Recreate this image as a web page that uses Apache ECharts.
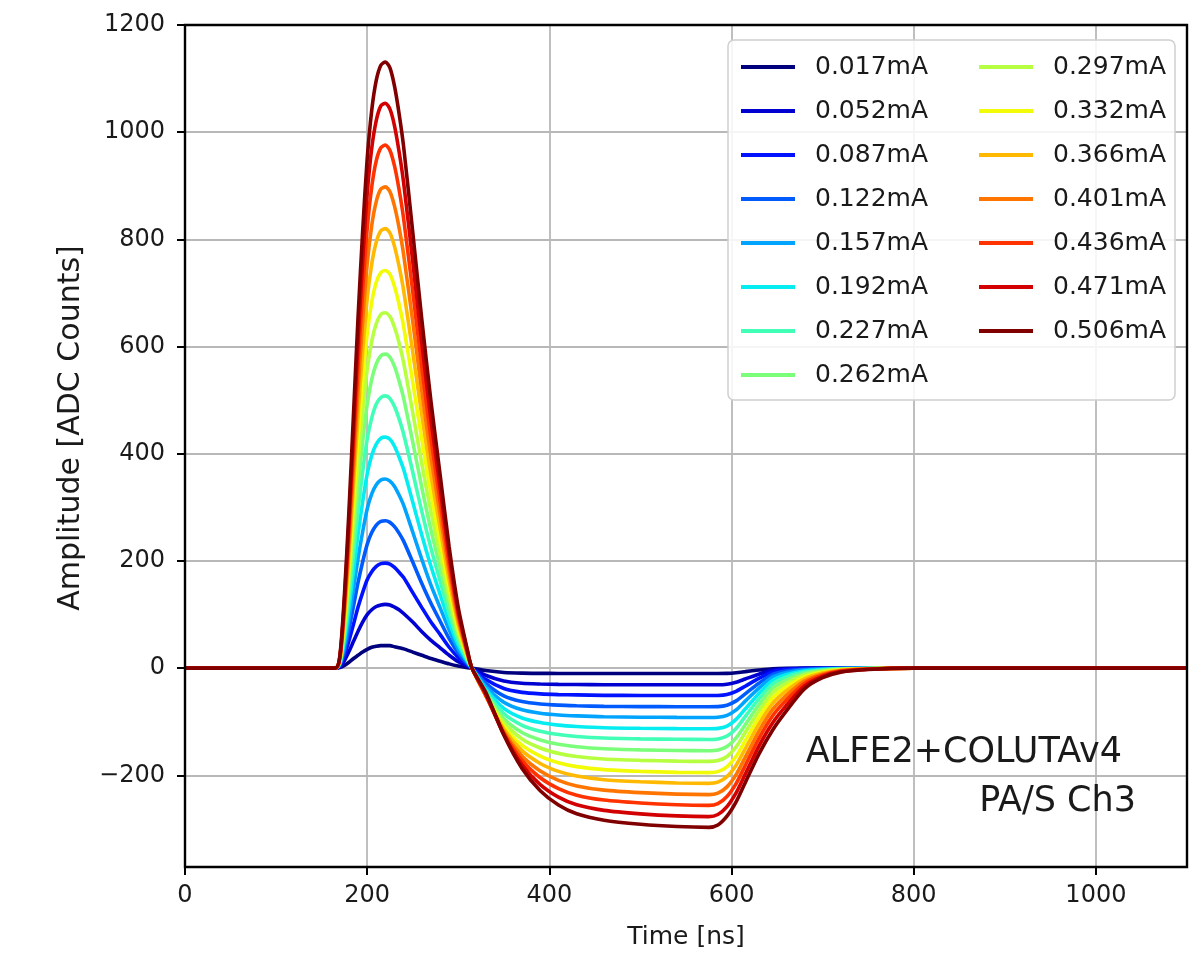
<!DOCTYPE html>
<html>
<head>
<meta charset="utf-8">
<script src="https://cdn.jsdelivr.net/npm/echarts@6/dist/echarts.min.js"></script>
<style>
html,body{margin:0;padding:0;background:#fff;}
#chart{width:1204px;height:956px;}
</style>
</head>
<body>
<div id="chart"></div>
<script>
// Time samples [ns]
const timeNs = [0,165,170,175,180,185,190,195,200,205,210,215,220,225,230,235,240,250,260,270,280,290,300,310,315,330,350,370,390,410,430,460,500,540,575,585,595,605,615,630,645,660,680,700,720,750,800,1100];

const currentLabels = ['0.017mA','0.052mA','0.087mA','0.122mA','0.157mA','0.192mA','0.227mA','0.262mA','0.297mA','0.332mA','0.366mA','0.401mA','0.436mA','0.471mA','0.506mA'];

// Amplitude [ADC counts] per injected current
const amp017 = [0,0,1,5,11,18,24,30,35,39,41,42,42,42,40,38,36,30,24,18,13,8,4,1,0,-4.5,-8,-9.3,-9.7,-9.9,-9.9,-10,-10,-10,-10,-10,-9.7,-8.5,-6.5,-3.5,-1,-0.2,0,0,0,0,0,0];
const amp052 = [0,0,2,14,31,50,69,86,100,109,115,118,119,118,114,109,102,86,68,52,38,24,12,4,0,-13.3,-24,-28.2,-29.6,-30.3,-30.5,-30.9,-31,-31,-31,-31,-30,-26.3,-20.3,-11.3,-3.7,-1.2,-0.3,-0.1,-0.1,0,0,0];
const amp087 = [0,0,4,24,51,82,114,141,165,180,190,195,196,194,188,179,169,141,113,86,63,39,20,6,0,-20.8,-38,-45.2,-48,-49.3,-49.9,-50.7,-50.9,-51,-51,-50.9,-49.2,-43.3,-33.7,-19.2,-7.2,-2.8,-0.9,-0.4,-0.2,-0.1,0,0];
const amp122 = [0,0,6,33,72,116,160,198,231,253,267,274,275,272,264,252,237,198,158,121,88,55,28,8,0,-27.8,-51.7,-62.3,-66.8,-69,-70.1,-71.3,-71.7,-71.9,-72,-71.8,-69.2,-61,-47.9,-28.1,-11.7,-5.3,-2,-0.9,-0.4,-0.1,0,0];
const amp157 = [0,0,7,42,92,148,205,254,297,325,342,351,353,349,339,323,304,254,203,155,113,71,35,11,0,-33.5,-63.6,-77.7,-84,-87.3,-89.1,-90.8,-91.5,-91.9,-92,-91.6,-88.2,-77.9,-61.6,-37.2,-16.8,-8.4,-3.4,-1.6,-0.7,-0.2,0,0];
const amp192 = [0,0,9,52,112,181,250,310,362,397,418,429,431,427,414,394,371,310,248,190,138,86,43,13,0,-38.7,-75.1,-93,-101.5,-106.3,-108.8,-111.2,-112.2,-112.8,-113,-112.4,-108,-95.6,-76.3,-47.2,-23,-12.4,-5.2,-2.4,-1,-0.3,0,0];
const amp227 = [0,0,10,61,132,213,295,366,427,467,493,505,508,503,488,465,437,366,292,224,163,102,51,15,0,-42.7,-84.7,-106.6,-117.6,-123.9,-127.4,-130.4,-131.9,-132.7,-133,-132.1,-126.7,-112.5,-90.4,-57.4,-29.8,-16.9,-7.4,-3.4,-1.4,-0.5,0,0];
const amp262 = [0,0,12,70,152,246,340,422,492,539,568,583,586,580,563,536,504,422,337,258,188,117,59,18,0,-46.2,-93.9,-120.1,-134,-142.1,-146.7,-150.5,-152.5,-153.6,-154,-152.8,-146.3,-130.1,-105.5,-68.5,-37.7,-22.3,-10,-4.6,-1.9,-0.6,0,0];
const amp297 = [0,0,13,80,172,278,385,477,557,610,643,660,663,656,636,607,570,477,381,292,212,133,66,20,0,-48.5,-101.4,-132,-148.9,-159,-164.8,-169.5,-172,-173.5,-174,-172.5,-164.8,-146.9,-120.1,-79.8,-46.2,-28.3,-12.9,-6,-2.5,-0.8,0,0];
const amp332 = [0,0,15,89,193,312,430,534,623,683,720,738,742,735,712,679,638,534,427,326,237,148,74,22,0,-50.1,-108.4,-143.7,-164.1,-176.4,-183.7,-189.4,-192.5,-194.4,-195,-193.1,-184.1,-164.5,-135.5,-92.1,-55.8,-35.2,-16.3,-7.5,-3.1,-1,0,0];
const amp366 = [0,0,16,98,213,344,476,590,689,754,795,816,820,812,787,750,705,590,472,361,262,164,82,25,0,-50.7,-113.6,-153.9,-177.8,-192.6,-201.3,-208.1,-211.9,-214.2,-215,-212.7,-202.4,-181.2,-150.5,-104.4,-66,-42.7,-20,-9.2,-3.8,-1.2,0,0];
const amp401 = [0,0,18,108,233,377,521,647,754,826,871,894,898,889,862,822,772,647,516,395,287,180,90,27,0,-50.6,-118.3,-163.9,-191.8,-209.3,-219.7,-227.6,-232.3,-235.1,-236,-233.2,-221.5,-198.7,-166.4,-117.8,-77.4,-51.1,-24.1,-11.1,-4.6,-1.5,0,0];
const amp436 = [0,0,20,117,254,410,566,703,820,898,947,971,976,966,937,893,839,703,561,429,312,195,98,29,0,-49.4,-121.4,-172.3,-204.4,-224.7,-237,-246.1,-251.6,-254.9,-256,-252.7,-239.5,-215.4,-181.8,-131.3,-89.2,-60,-28.5,-13.2,-5.5,-1.8,0,0];
const amp471 = [0,0,21,126,274,443,611,759,885,970,1022,1049,1054,1043,1012,964,906,759,606,464,337,211,105,32,0,-47.5,-123.8,-180.4,-217.3,-240.7,-255,-265.4,-271.8,-275.7,-277,-273.1,-258.4,-232.9,-198.1,-145.8,-102.3,-69.8,-33.4,-15.4,-6.4,-2,0,0];
const amp506 = [0,0,23,136,294,475,656,814,950,1041,1097,1125,1131,1120,1086,1035,973,814,650,498,362,226,113,34,0,-44.6,-124.7,-187.1,-228.7,-255.4,-271.8,-283.6,-291.1,-295.5,-297,-292.5,-276.2,-249.5,-213.8,-160.4,-115.8,-80.2,-38.6,-17.8,-7.4,-2.4,0,0];

const allAmps = [amp017,amp052,amp087,amp122,amp157,amp192,amp227,amp262,amp297,amp332,amp366,amp401,amp436,amp471,amp506];

const xTicks = [0,200,400,600,800,1000];
const yTicks = [-200,0,200,400,600,800,1000,1200];

// jet colormap samples
const jetColors = ['#00007f','#0000d1','#0012ff','#005bff','#00a4ff','#06edf1','#41ffb6','#7bff7b','#b6ff41','#f1fc06','#ffb900','#ff7500','#ff3200','#d20000','#800000'];

const FONT = 'DejaVu Sans';
const TXT = '#1a1a1a';

const series = allAmps.map((arr, i) => ({
  name: currentLabels[i],
  type: 'line',
  data: timeNs.map((t, k) => [t, arr[k]]),
  showSymbol: false,
  symbol: 'none',
  smooth: 0.25,
  lineStyle: {width: 3.6, color: jetColors[i]},
  itemStyle: {color: jetColors[i]},
  z: 2
}));

const legendCommon = {
  orient: 'vertical',
  icon: 'rect',
  itemWidth: 54,
  itemHeight: 4,
  itemGap: 14,
  selectedMode: false,
  z: 20,
  textStyle: {fontFamily: FONT, fontSize: 25, color: TXT, lineHeight: 30, padding: [0,0,0,15]}
};

const fmtNum = v => (v < 0 ? '\u2212' + Math.abs(v) : String(v));

const option = {
  animation: false,
  backgroundColor: '#ffffff',
  color: jetColors,
  grid: {left: 185, top: 25, width: 1002, height: 842, show: false},
  xAxis: {
    type: 'value', min: 0, max: 1100, interval: 200,
    name: 'Time [ns]', nameLocation: 'middle', nameGap: 58,
    nameTextStyle: {fontFamily: FONT, fontSize: 25, color: TXT},
    axisLine: {show: false, onZero: false},
    axisTick: {show: true, length: 8, lineStyle: {color: '#000', width: 2}},
    axisLabel: {fontFamily: FONT, fontSize: 24, color: TXT, margin: 17, showMaxLabel: false,
      formatter: v => (xTicks.indexOf(v) >= 0 ? fmtNum(v) : '')},
    splitLine: {show: true, lineStyle: {color: '#b8b8b8', width: 1.8}}
  },
  yAxis: {
    type: 'value', min: -371, max: 1200, minInterval: 200, maxInterval: 200,
    axisLine: {show: false, onZero: false},
    axisTick: {show: true, length: 8, lineStyle: {color: '#000', width: 2}},
    axisLabel: {fontFamily: FONT, fontSize: 24, color: TXT, margin: 20, showMinLabel: false,
      formatter: v => (yTicks.indexOf(v) >= 0 ? fmtNum(v) : '')},
    splitLine: {show: true, lineStyle: {color: '#b8b8b8', width: 1.8}}
  },
  legend: [
    Object.assign({}, legendCommon, {left: 736, top: 47, data: currentLabels.slice(0, 8)}),
    Object.assign({}, legendCommon, {left: 974, top: 47, data: currentLabels.slice(8)})
  ],
  graphic: [
    {type: 'rect', z: 12, silent: true, shape: {x: 185, y: 25, width: 1002, height: 842},
     style: {fill: 'none', stroke: '#000', lineWidth: 2.4}},
    {type: 'rect', z: 15, shape: {x: 728, y: 40, width: 447, height: 360, r: 6},
     style: {fill: 'rgba(255,255,255,0.85)', stroke: '#cfcfcf', lineWidth: 1.5}},
    {type: 'text', z: 15, x: 71, y: 428, rotation: Math.PI / 2,
     style: {text: 'Amplitude [ADC Counts]', fontFamily: FONT, fontSize: 30, fill: TXT, align: 'center', verticalAlign: 'middle'}},
    {type: 'text', z: 15, x: 1122, y: 753,
     style: {text: 'ALFE2+COLUTAv4', fontFamily: FONT, fontSize: 35, fill: TXT, align: 'right', verticalAlign: 'middle'}},
    {type: 'text', z: 15, x: 1136, y: 802,
     style: {text: 'PA/S Ch3', fontFamily: FONT, fontSize: 35, fill: TXT, align: 'right', verticalAlign: 'middle'}}
  ],
  series: series
};

const chart = echarts.init(document.getElementById('chart'), null, {renderer: 'canvas'});
chart.setOption(option);
</script>
</body>
</html>
